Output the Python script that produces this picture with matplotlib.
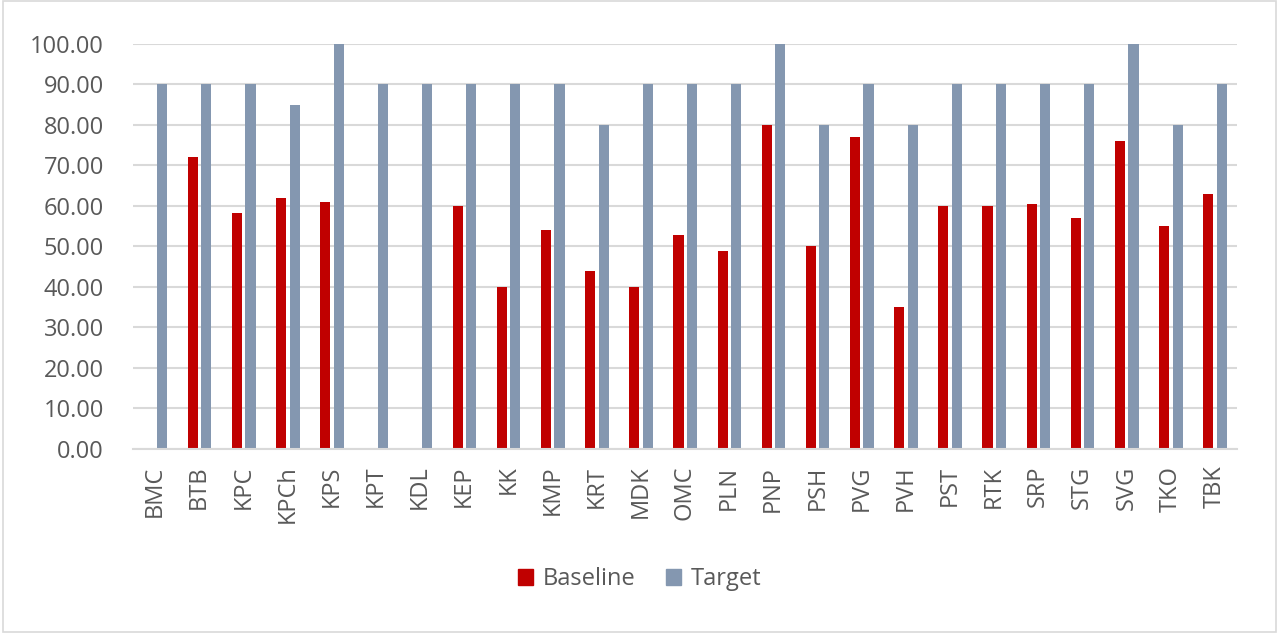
import matplotlib
matplotlib.use("Agg")
import matplotlib.pyplot as plt
import numpy as np
from matplotlib.patches import Rectangle, Patch

categories = ["BMC", "BTB", "KPC", "KPCh", "KPS", "KPT", "KDL", "KEP", "KK", "KMP",
              "KRT", "MDK", "OMC", "PLN", "PNP", "PSH", "PVG", "PVH", "PST", "RTK",
              "SRP", "STG", "SVG", "TKO", "TBK"]
baseline = [0, 72, 58.3, 62, 61, 0, 0, 60, 40, 54,
            44, 40, 52.8, 49, 80, 50, 77, 35, 60, 60,
            60.4, 57, 76, 55, 63]
target = [90, 90, 90, 85, 100, 90, 90, 90, 90, 90,
          80, 90, 90, 90, 100, 80, 90, 80, 90, 90,
          90, 90, 100, 80, 90]
yticks = [0, 10, 20, 30, 40, 50, 60, 70, 80, 90, 100]

plt.rcParams['font.family'] = ['Open Sans', 'DejaVu Sans']
txt = '#595959'
red = '#C00000'
blue = '#8497B0'

fig = plt.figure(figsize=(12.79, 6.33), dpi=100)
ax = fig.add_axes([0.104, 0.2907, 0.863, 0.6398])

x = np.arange(len(categories))
w = 0.23
ax.bar(x - 0.145, baseline, width=w, color=red, zorder=3)
ax.bar(x + 0.16, target, width=w, color=blue, zorder=3)

ax.set_xlim(-0.5, len(categories) - 0.5)
ax.set_ylim(0, 100)
ax.set_yticks(yticks)
ax.set_yticklabels([f"{v:.2f}" for v in yticks])
ax.set_xticks(x)
ax.set_xticklabels(categories, rotation=90)
ax.tick_params(axis='both', length=0, labelsize=17, colors=txt)
ax.tick_params(axis='y', pad=21)
ax.tick_params(axis='x', pad=12)
ax.grid(axis='y', color='#D9D9D9', linewidth=1.5, zorder=0)
for s in ['top', 'right', 'left']:
    ax.spines[s].set_visible(False)
ax.spines['bottom'].set_color('#D9D9D9')
ax.spines['bottom'].set_linewidth(1.5)
ax.spines['bottom'].set_zorder(4)

handles = [Patch(color=red, label='Baseline'), Patch(color=blue, label='Target')]
fig.legend(handles=handles, loc='center', bbox_to_anchor=(0.5, 1 - 579 / 633), ncol=2,
           frameon=False, fontsize=17, labelcolor=txt, handlelength=0.65, handleheight=0.65,
           handletextpad=0.4, columnspacing=1.3)

fig.patches.append(Rectangle((0.002, 0.002), 0.996, 0.996, transform=fig.transFigure,
                             fill=False, edgecolor='#D9D9D9', linewidth=1.2))

fig.savefig('out.png', dpi=100, facecolor='white')
